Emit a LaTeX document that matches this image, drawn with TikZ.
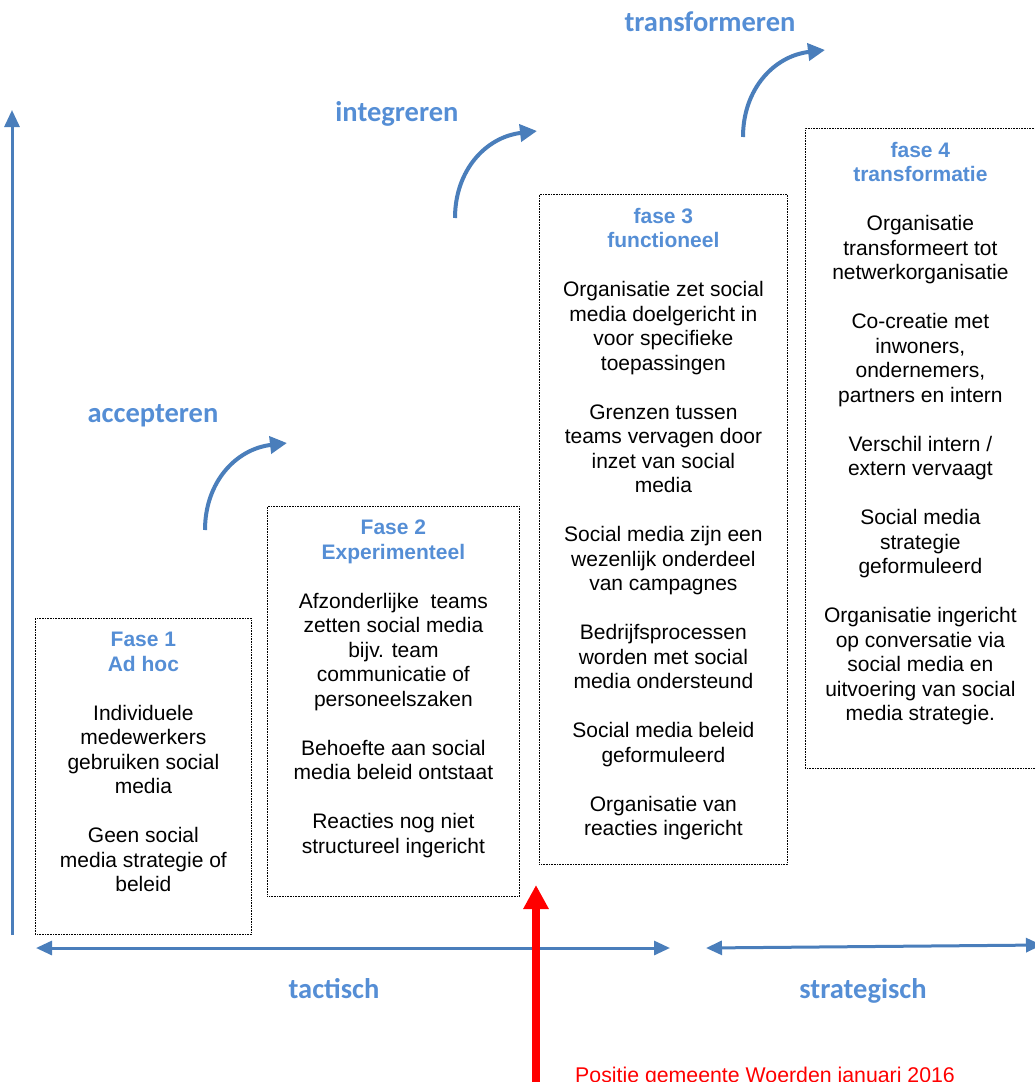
\documentclass[tikz,border=0pt]{standalone}
\usepackage{fontspec}
\setmainfont{Liberation Sans}
\newfontfamily\calibri{Carlito}
\usetikzlibrary{arrows.meta}
\definecolor{pijlblauw}{RGB}{74,126,187}
\definecolor{titelblauw}{RGB}{85,142,213}
\newcommand{\fasetitel}[1]{\textcolor{titelblauw}{\bfseries #1}}
\tikzset{
  fasebox/.style={draw, line width=0.8pt, dash pattern=on 0.8pt off 0.8pt, anchor=north west, inner sep=0pt},
  fasetekst/.style={anchor=north, align=center, inner sep=0pt, font=\fontsize{21}{24.5}\selectfont},
  stap/.style={anchor=base, inner sep=0pt, text=titelblauw, font=\calibri\bfseries\fontsize{28.5}{32}\selectfont},
  as/.style={draw=pijlblauw, line width=3pt},
  boog/.style={draw=pijlblauw, line width=4pt, -{Triangle[length=17pt,width=17pt]}}
}
\begin{document}
\begin{tikzpicture}[x=1pt,y=-1pt,line join=round]
	\useasboundingbox (0,0) rectangle (1035,1082);
	\clip (0,0) rectangle (1035,1082);
	%Assen
	\coordinate (o) at (12,935); \coordinate (top) at (12,110);
	\draw[as,-{Triangle[length=17pt,width=15pt]}] (o)--(top);
	\coordinate (tl) at (36,948); \coordinate (tr) at (670,948);
	\draw[as,{Triangle[length=16pt,width=14pt]}-{Triangle[length=16pt,width=14pt]}] (tl)--(tr);
	\coordinate (sl) at (706,948); \coordinate (sr) at (1042,945);
	\draw[as,{Triangle[length=16pt,width=14pt]}-{Triangle[length=16pt,width=14pt]}] (sl)--(sr);
	\node[stap] (tactisch) at (334,998) {tactisch};
	\node[stap] (strategisch) at (863,998) {strategisch};
	%Fases
	\node[fasebox,minimum width=216pt,minimum height=316pt] (f1) at (35,618) {};
	\node[fasebox,minimum width=252pt,minimum height=390pt] (f2) at (267,506) {};
	\node[fasebox,minimum width=248pt,minimum height=670pt] (f3) at (539,194) {};
	\node[fasebox,minimum width=232pt,minimum height=640pt] (f4) at (805,128) {};
	\node[fasetekst] (t1) at ([yshift=-14pt]f1.north) {\fasetitel{Fase 1}\\ \fasetitel{Ad hoc}\\[24.5pt]
		Individuele\\ medewerkers\\ gebruiken social\\ media\\[24.5pt]
		Geen social\\ media strategie of\\ beleid};
	\node[fasetekst] (t2) at ([yshift=-14pt]f2.north) {\fasetitel{Fase 2}\\ \fasetitel{Experimenteel}\\[24.5pt]
		Afzonderlijke\ \ teams\\ zetten social media\\ bijv. team\\ communicatie of\\ personeelszaken\\[24.5pt]
		Behoefte aan social\\ media beleid ontstaat\\[24.5pt]
		Reacties nog niet\\ structureel ingericht};
	\node[fasetekst] (t3) at ([yshift=-14pt]f3.north) {\fasetitel{fase 3}\\ \fasetitel{functioneel}\\[24.5pt]
		Organisatie zet social\\ media doelgericht in\\ voor specifieke\\ toepassingen\\[24.5pt]
		Grenzen tussen\\ teams vervagen door\\ inzet van social\\ media\\[24.5pt]
		Social media zijn een\\ wezenlijk onderdeel\\ van campagnes\\[24.5pt]
		Bedrijfsprocessen\\ worden met social\\ media ondersteund\\[24.5pt]
		Social media beleid\\ geformuleerd\\[24.5pt]
		Organisatie van\\ reacties ingericht};
	\node[fasetekst] (t4) at ([xshift=-1pt,yshift=-14pt]f4.north) {\fasetitel{fase 4}\\ \fasetitel{transformatie}\\[24.5pt]
		Organisatie\\ transformeert tot\\ netwerkorganisatie\\[24.5pt]
		Co-creatie met\\ inwoners,\\ ondernemers,\\ partners en intern\\[24.5pt]
		Verschil intern /\\ extern vervaagt\\[24.5pt]
		Social media\\ strategie\\ geformuleerd\\[24.5pt]
		Organisatie ingericht\\ op conversatie via\\ social media en\\ uitvoering van social\\ media strategie.};
	%Stappen met gebogen pijlen
	\node[stap] (accepteren) at (153,422) {accepteren};
	\node[stap] (integreren) at (397,121) {integreren};
	\node[stap] (transformeren) at (710,31) {transformeren};
	\foreach \i/\dx/\dy in {1/0/0, 2/250/-312, 3/538/-393} {
		\begin{scope}[shift={(\dx,\dy)}]
		\coordinate (b\i) at (205,530); \coordinate (e\i) at (287,443);
		\draw[boog] (b\i) .. controls (205,482) and (236,449) .. (e\i);
		\end{scope}
	}
	%Positie
	\coordinate (p0) at (536,1100); \coordinate (p1) at (536,885);
	\draw[red,line width=8pt,-{Triangle[length=24pt,width=24pt]}] (p0)--(p1);
	\node[anchor=base west,inner sep=0pt,text=red,font=\fontsize{21.3}{24}\selectfont] (positie) at (575,1082) {Positie gemeente Woerden januari 2016};
\end{tikzpicture}
\end{document}
